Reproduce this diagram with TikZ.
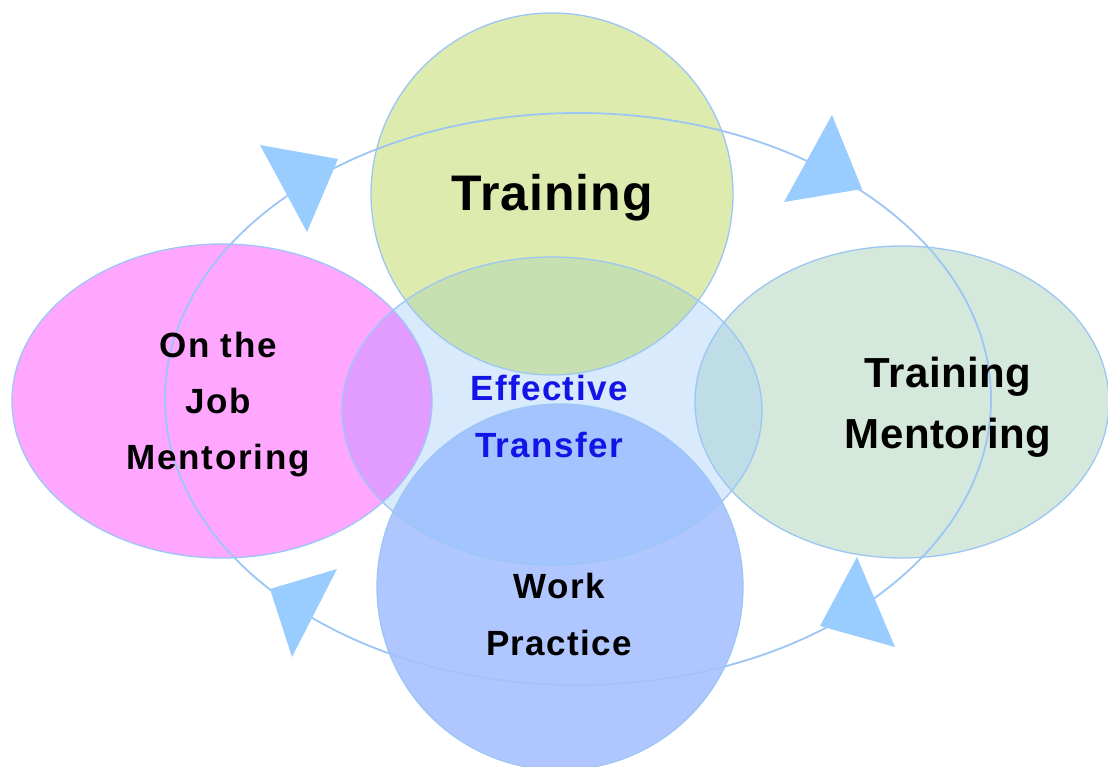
\documentclass[tikz,border=0pt]{standalone}
\usepackage{fontspec}
\setmainfont{Liberation Sans}
\definecolor{bgline}{HTML}{9CC6F4}
\definecolor{tri}{HTML}{99CCFF}
\definecolor{cfill}{HTML}{D9EAFD}
\definecolor{pfill}{HTML}{FFA6FF}
\definecolor{tfill}{HTML}{DEEBAE}
\definecolor{gfill}{HTML}{D5E8DC}
\definecolor{bfill}{HTML}{A8C0FF}
\definecolor{pov}{HTML}{E29CFF}
\definecolor{tov}{HTML}{C6E0B1}
\definecolor{gov}{HTML}{BFDDE6}
\definecolor{bov}{HTML}{A3C4FE}
\definecolor{eftext}{HTML}{1414E6}
\tikzset{
  outl/.style={draw=bgline, line width=1.3pt},
  cyc/.style={draw=bgline, line width=1.8pt},
  arrowtri/.style={fill=tri, draw=none},
  lbl/.style={font=\bfseries, align=center, inner sep=0pt}
}
\begin{document}
\begin{tikzpicture}[x=1pt,y=-1pt]
\fill[white] (0,0) rectangle (1108,767);
\useasboundingbox (0,0) rectangle (1108,767);
% central fill
\fill[cfill] (552,411) ellipse [x radius=210pt, y radius=154pt];
% outer shapes fills
\fill[pfill] (222,401) ellipse [x radius=210pt, y radius=157pt];
\fill[gfill] (902,402) ellipse [x radius=207pt, y radius=156pt];
\fill[tfill] (552,194) circle [radius=181pt];
\begin{scope}
  \clip (552,411) ellipse [x radius=210pt, y radius=154pt];
  \fill[pov] (222,401) ellipse [x radius=210pt, y radius=157pt];
  \fill[gov] (902,402) ellipse [x radius=207pt, y radius=156pt];
  \fill[tov] (552,194) circle [radius=181pt];
\end{scope}
% cycle ellipse
\draw[cyc] (578,399) ellipse [x radius=413pt, y radius=286pt];
% bottom circle
\fill[bfill, fill opacity=0.9] (560,587) circle [radius=183pt];
\begin{scope}
  \clip (552,411) ellipse [x radius=210pt, y radius=154pt];
  \fill[bov] (560,587) circle [radius=183pt];
\end{scope}
% outlines
\draw[outl] (552,411) ellipse [x radius=210pt, y radius=154pt];
\draw[outl] (222,401) ellipse [x radius=210pt, y radius=157pt];
\draw[outl] (902,402) ellipse [x radius=207pt, y radius=156pt];
\draw[outl] (552,194) circle [radius=181pt];
\draw[outl] (560,587) circle [radius=183pt];
% arrow triangles
\fill[arrowtri] (260,145) -- (338,159) -- (307,232) -- cycle;
\fill[arrowtri] (832,115) -- (862,189) -- (784,202) -- cycle;
\fill[arrowtri] (337,569) -- (270,589) -- (292,657) -- cycle;
\fill[arrowtri] (857,557) -- (820,626) -- (895,647) -- cycle;
% labels
\node[lbl, font=\bfseries\fontsize{50}{60}\selectfont\addfontfeatures{LetterSpace=2}] (training) at (552,198) {Training};
\node[lbl, font=\bfseries\fontsize{35}{56}\selectfont\addfontfeatures{LetterSpace=5}] (ojm) at (218,405) {On the\\Job\\Mentoring};
\node[lbl, font=\bfseries\fontsize{42}{61}\selectfont\addfontfeatures{LetterSpace=1}] (tm) at (948,407) {Training\\Mentoring};
\node[lbl, text=eftext, font=\bfseries\fontsize{35}{57}\selectfont\addfontfeatures{LetterSpace=4}] (eff) at (549,416) {Effective\\Transfer};
\node[lbl, font=\bfseries\fontsize{35}{57}\selectfont\addfontfeatures{LetterSpace=4}] (wp) at (559,614) {Work\\Practice};
\end{tikzpicture}
\end{document}
